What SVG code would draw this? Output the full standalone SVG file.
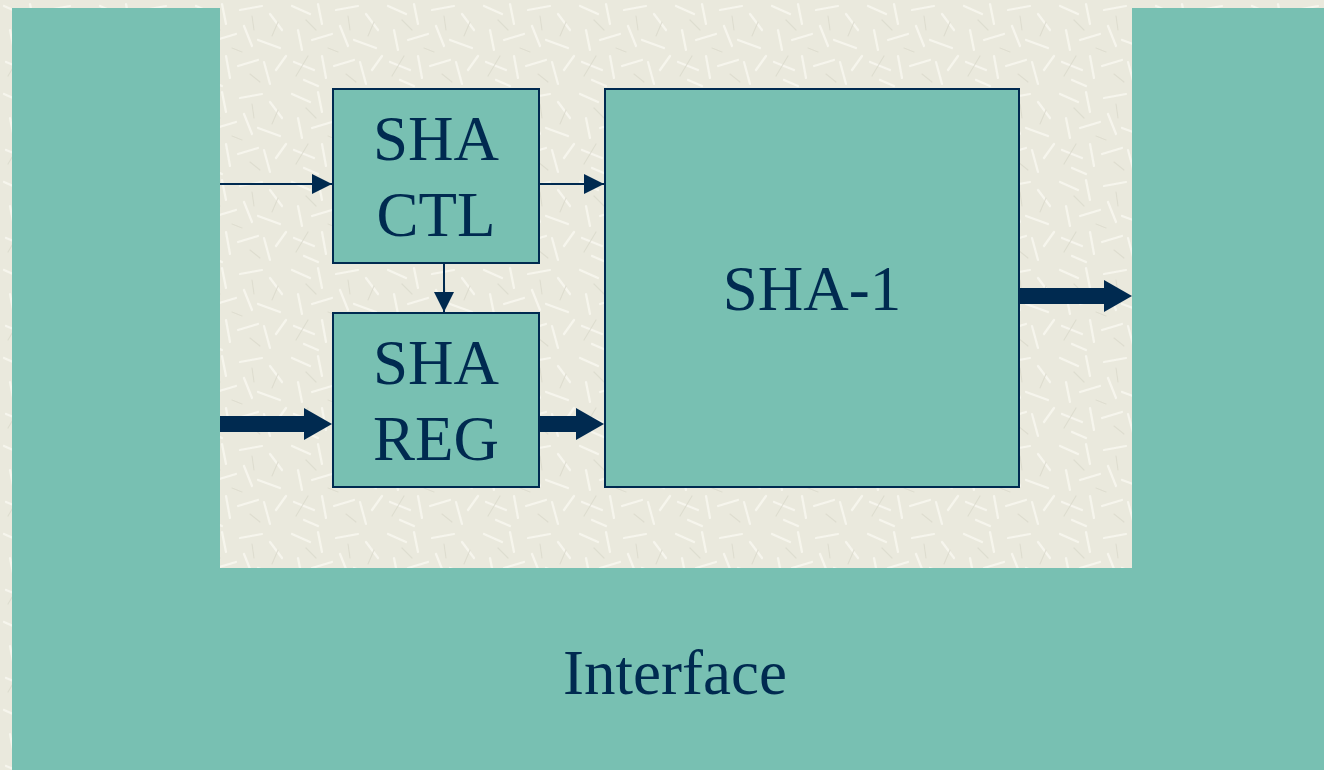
<svg xmlns="http://www.w3.org/2000/svg" width="1324" height="770" viewBox="0 0 1324 770">
  <defs>
    <pattern id="tex" x="0" y="0" width="96" height="88" patternUnits="userSpaceOnUse">
      <rect width="96" height="88" fill="#EAE9DD"/>
      <g stroke="#F8F7EF" stroke-width="2.2" stroke-linecap="round" opacity="0.9">
        <line x1="4" y1="6" x2="22" y2="14"/>
        <line x1="30" y1="4" x2="34" y2="24"/>
        <line x1="48" y1="10" x2="70" y2="6"/>
        <line x1="78" y1="14" x2="90" y2="30"/>
        <line x1="10" y1="30" x2="14" y2="50"/>
        <line x1="24" y1="40" x2="44" y2="34"/>
        <line x1="52" y1="26" x2="60" y2="46"/>
        <line x1="66" y1="40" x2="88" y2="48"/>
        <line x1="6" y1="62" x2="26" y2="70"/>
        <line x1="34" y1="56" x2="38" y2="78"/>
        <line x1="46" y1="66" x2="66" y2="60"/>
        <line x1="72" y1="62" x2="78" y2="84"/>
        <line x1="84" y1="70" x2="94" y2="56"/>
        <line x1="16" y1="80" x2="30" y2="86"/>
      </g>
      <g stroke="#D9D8CA" stroke-width="1.2" stroke-linecap="round" opacity="0.7">
        <line x1="18" y1="20" x2="28" y2="30"/>
        <line x1="60" y1="16" x2="62" y2="30"/>
        <line x1="40" y1="48" x2="50" y2="52"/>
        <line x1="80" y1="36" x2="86" y2="22"/>
        <line x1="20" y1="56" x2="8" y2="76"/>
        <line x1="58" y1="74" x2="68" y2="82"/>
      </g>
    </pattern>
    <marker id="thin" markerUnits="userSpaceOnUse" markerWidth="20" markerHeight="20" viewBox="0 0 20 20" refX="20" refY="10" orient="auto">
      <path d="M0,0 L20,10 L0,20 Z" fill="#002A50"/>
    </marker>
    <marker id="thick" markerUnits="userSpaceOnUse" markerWidth="28" markerHeight="32" viewBox="0 0 28 32" refX="0" refY="16" orient="auto">
      <path d="M0,0 L28,16 L0,32 Z" fill="#002A50"/>
    </marker>
  </defs>
  <style>
    .box { fill: #78C0B2; stroke: #002A50; stroke-width: 2; }
    .lbl { font-family: "Liberation Serif", "Times New Roman", serif; fill: #002A50; text-anchor: middle; font-size: 63px; }
    .thin { stroke: #002A50; stroke-width: 2; fill: none; marker-end: url(#thin); }
    .thick { stroke: #002A50; stroke-width: 16; fill: none; marker-end: url(#thick); }
  </style>

  <rect id="background" x="0" y="0" width="1324" height="770" fill="url(#tex)"/>

  <g id="interface">
    <path d="M12,8 H220 V568 H1132 V8 H1324 V770 H12 Z" fill="#78C0B2"/>
    <text class="lbl" x="675" y="694">Interface</text>
  </g>

  <g id="sha-ctl">
    <rect class="box" x="333" y="89" width="206" height="174"/>
    <text class="lbl" x="436" y="160">SHA</text>
    <text class="lbl" x="436" y="236">CTL</text>
  </g>

  <g id="sha-reg">
    <rect class="box" x="333" y="313" width="206" height="174"/>
    <text class="lbl" x="436" y="384">SHA</text>
    <text class="lbl" x="436" y="460">REG</text>
  </g>

  <g id="sha1">
    <rect class="box" x="605" y="89" width="414" height="398"/>
    <text class="lbl" x="812" y="310">SHA-1</text>
  </g>

  <g id="connectors">
    <line class="thin" x1="220" y1="184" x2="332" y2="184"/>
    <line class="thin" x1="540" y1="184" x2="604" y2="184"/>
    <line class="thin" x1="444" y1="264" x2="444" y2="312"/>
    <line class="thick" x1="220" y1="424" x2="304" y2="424"/>
    <line class="thick" x1="540" y1="424" x2="576" y2="424"/>
    <line class="thick" x1="1020" y1="296" x2="1104" y2="296"/>
  </g>
</svg>
